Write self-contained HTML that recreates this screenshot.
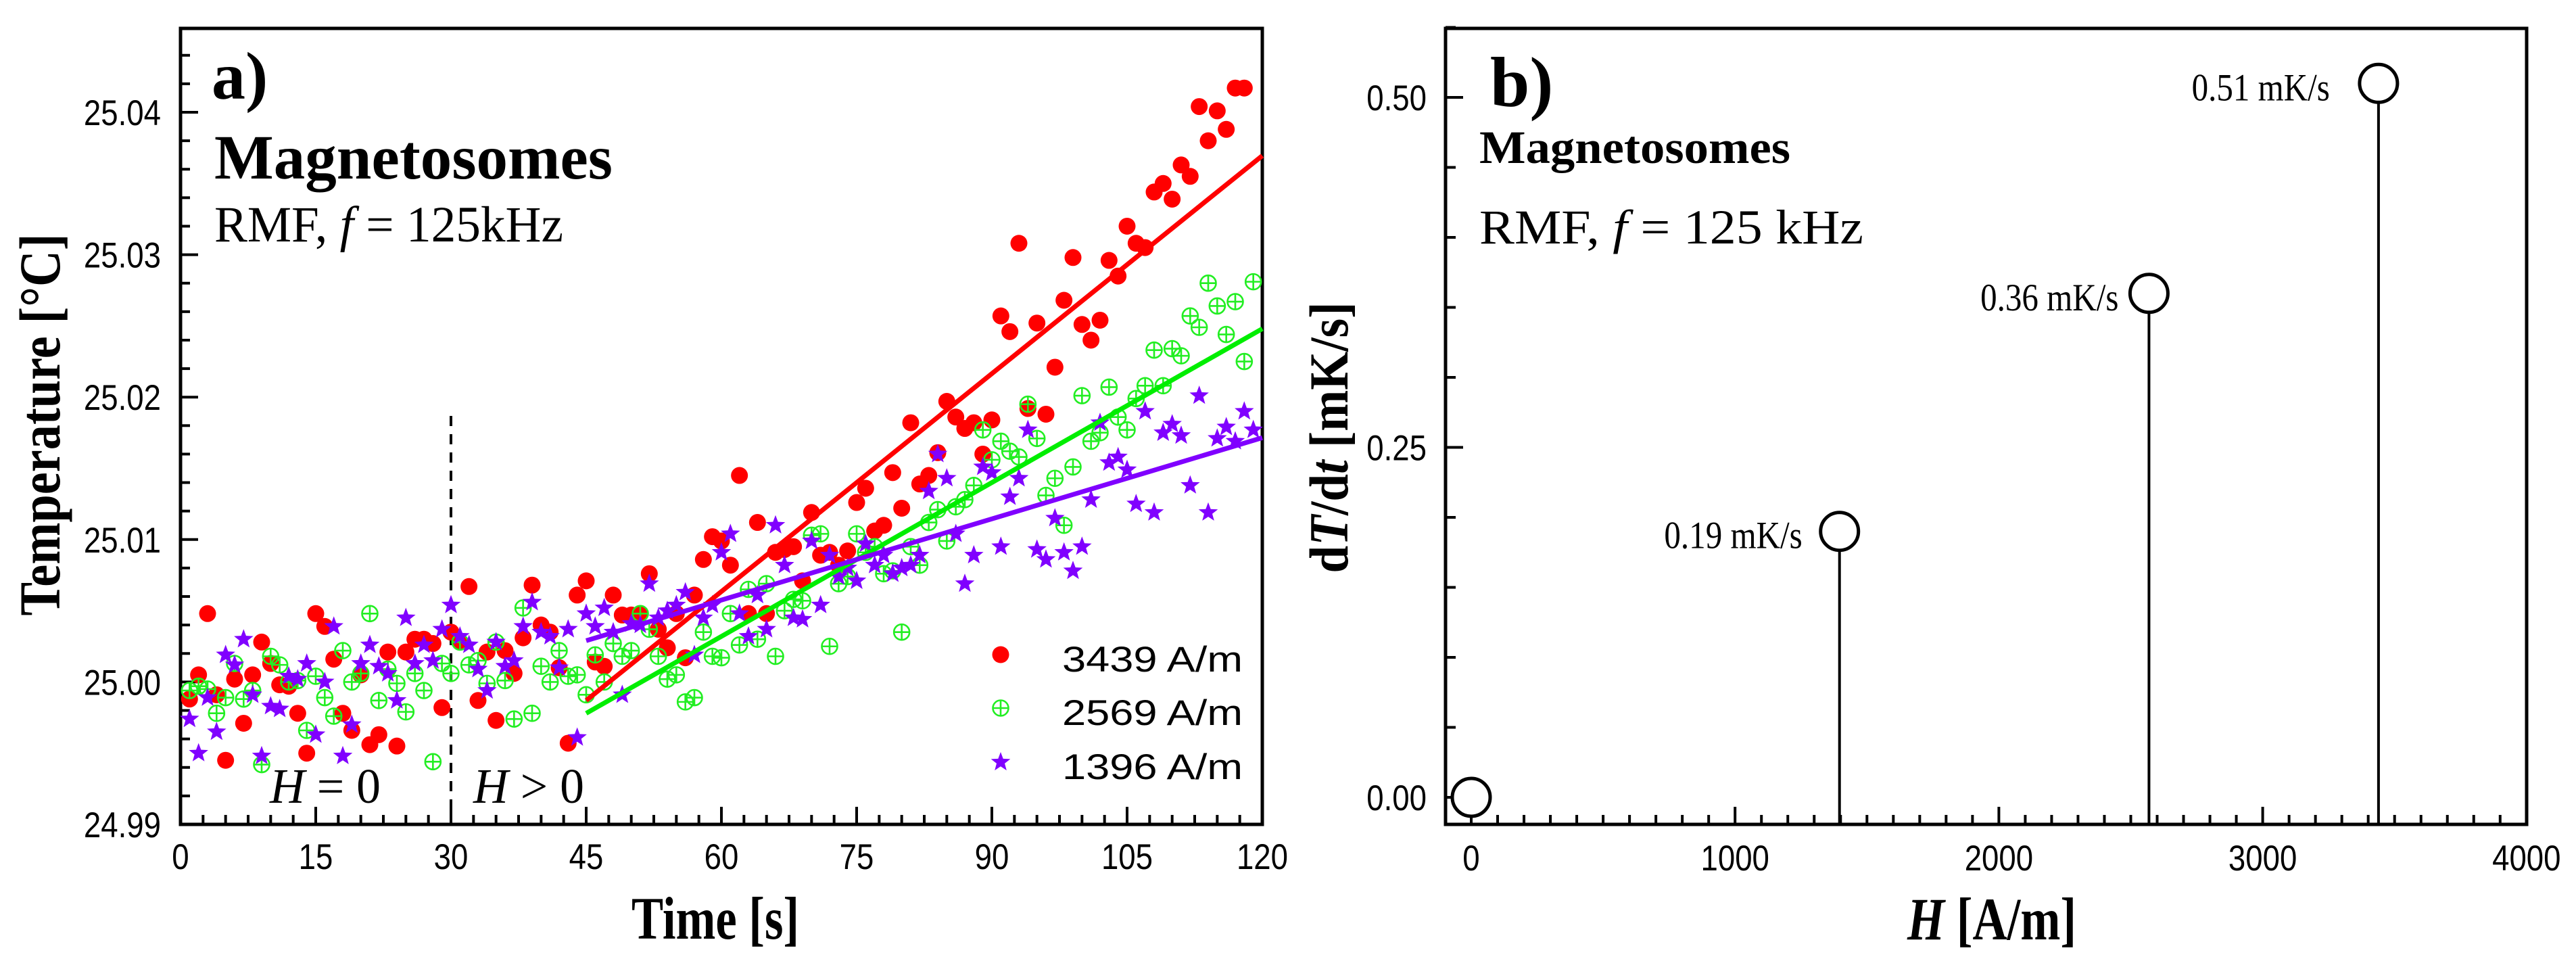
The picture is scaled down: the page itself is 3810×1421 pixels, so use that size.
<!DOCTYPE html>
<html><head><meta charset="utf-8"><title>Magnetosomes heating</title>
<style>
html,body{margin:0;padding:0;background:#fff;}
svg{display:block;}
.tk{font-family:"Liberation Sans",Arial,sans-serif;font-size:53px;fill:#000;}
.ser{font-family:"Liberation Serif","Times New Roman",serif;fill:#000;}
</style></head>
<body>
<svg id="fig" width="3810" height="1421" viewBox="0 0 3810 1421" xmlns="http://www.w3.org/2000/svg">
<g id="panelA"></g>
<g id="panelB"></g>
</svg>
<script>
// ---------- Panel a data ----------
const times = [1,2,3,4,5,6,7,8,9,10,11,12,13,14,15,16,17,18,19,20,21,22,23,24,25,26,27,28,29,30,31,32,33,34,35,36,37,38,39,40,41,42,43,44,45,46,47,48,49,50,51,52,53,54,55,56,57,58,59,60,61,62,63,64,65,66,67,68,69,70,71,72,73,74,75,76,77,78,79,80,81,82,83,84,85,86,87,88,89,90,91,92,93,94,95,96,97,98,99,100,101,102,103,104,105,106,107,108,109,110,111,112,113,114,115,116,117,118,119];
// temperature offsets from 25.000 °C, in mK
const red3439 = [-1.2,0.5,4.8,-0.9,-5.5,0.2,-2.9,0.5,2.8,1.3,-0.2,-0.3,-2.2,-5.0,4.8,3.9,1.6,-2.2,-3.4,0.5,-4.4,-3.7,2.1,-4.5,2.1,3.0,3.0,2.7,-1.8,3.5,2.8,6.7,-1.3,2.1,-2.7,2.2,0.6,3.1,6.8,4.0,3.5,1.0,-4.3,6.1,7.1,1.4,1.1,6.1,4.7,4.7,4.8,7.6,3.7,2.4,4.8,1.7,6.1,8.6,10.2,9.9,8.2,14.5,4.8,11.2,4.8,9.1,9.3,9.5,7.1,11.9,8.9,9.1,8.2,9.2,12.6,13.6,10.6,11.0,14.7,12.2,18.2,13.9,14.5,16.1,19.7,18.6,17.8,18.2,16.0,18.4,25.7,24.6,30.8,19.2,25.2,18.8,22.1,26.8,29.8,25.1,24.0,25.4,29.6,28.5,32.0,30.8,30.5,34.4,35.0,33.9,36.3,35.5,40.4,38.0,40.1,38.8,41.7,41.7];
const green2569 = [-0.6,-0.3,-0.5,-2.2,-1.1,1.3,-1.2,-0.6,-5.8,1.8,1.2,0,0.1,-3.4,0.4,-1.1,-2.4,2.2,0,0.6,4.8,-1.3,0.9,-0.1,-2.1,0.6,-0.6,-5.6,1.3,0.6,2.8,1.2,1.5,-0.1,2.8,0.1,-2.6,5.2,-2.2,1.1,0,2.2,0.4,0.5,-0.9,1.9,0,2.7,1.8,2.2,4.8,3.7,1.8,0.2,0.5,-1.4,-1.1,3.5,1.8,1.7,4.8,2.6,6.5,3.0,6.9,1.8,5.0,5.8,5.7,10.3,10.4,2.5,6.9,7.4,10.4,9.1,9.5,7.6,7.8,3.5,9.5,8.2,11.2,12.1,9.9,12.3,12.8,13.8,17.7,15.6,16.9,16.2,15.8,19.5,17.1,13.1,14.3,11.0,15.1,20.1,16.9,17.5,20.7,18.6,17.7,19.9,20.8,23.3,20.8,23.4,22.9,25.7,24.9,28.0,26.4,24.4,26.7,22.5,28.1];
const purple1396 = [-2.6,-5.0,-1.1,-3.5,1.9,1.2,3.0,-0.9,-5.2,-1.7,-1.9,0.4,0.2,1.3,-3.7,0,3.9,-5.2,-3.0,1.3,2.6,1.1,0.6,-1.3,4.5,1.3,2.6,1.5,3.7,5.4,3.2,2.6,0.9,-0.6,2.8,1.1,1.5,3.9,5.6,3.5,3.2,1.0,3.7,-3.9,4.8,3.9,5.2,3.5,-0.9,4.1,4.0,6.9,4.5,5.0,5.4,6.3,1.9,4.5,5.4,9.1,10.4,4.8,3.2,6.1,3.7,11.0,8.2,4.5,4.4,9.9,5.4,8.9,7.4,8.0,7.1,9.7,8.2,8.9,7.6,8.0,8.2,8.9,13.4,16.0,14.3,10.4,6.9,8.9,15.1,14.7,9.5,13.0,14.3,17.7,9.3,8.6,11.5,9.1,7.8,9.5,12.8,18.2,15.4,15.8,14.9,12.5,19.0,11.9,17.5,18.1,17.3,13.8,20.1,11.9,17.1,17.9,16.9,19.0,17.7];
const fieldLabels = ["3439 A/m","2569 A/m","1396 A/m"];
const fitStartT = 45, fitEndT = 120;
const fitValueAtStart = [-1.3,-2.2,2.9];   // mK at t=45
const xTicksA = [0,15,30,45,60,75,90,105,120];
const yTicksA = [24.99,25.00,25.01,25.02,25.03,25.04];
const yTickLabelsA = ["24.99","25.00","25.01","25.02","25.03","25.04"];

// ---------- Panel b data ----------
const fieldH = [0,1396,2569,3439];
const rateDTdt = [0,0.19,0.36,0.51];
const rateLabels = ["","0.19 mK/s","0.36 mK/s","0.51 mK/s"];
const xTicksB = [0,1000,2000,3000,4000];
const yTicksB = [0.00,0.25,0.50];
const yTickLabelsB = ["0.00","0.25","0.50"];

const NS = "http://www.w3.org/2000/svg";
function mk(tag, attrs, parent, text){
  const e = document.createElementNS(NS, tag);
  for (const k in attrs) e.setAttribute(k, attrs[k]);
  if (text !== undefined) e.textContent = text;
  parent.appendChild(e);
  return e;
}
// axes functions
const A = {x0:267, x1:1867, y0:1219, top:42};
const xA = t => A.x0 + t*(A.x1-A.x0)/120;
const yA = T => 1219 - (T-24.99)*21060;
const yAmK = m => yA(25 + m/1000);
const B = {x0:2138, x1:3737, y0:1219, top:42};
const xB = h => 2176 + h*0.3902;
const yB = v => 1179 - v*2070;

const pa = document.getElementById('panelA');
const pb = document.getElementById('panelB');

// ===== Panel A =====
let fr = mk('rect',{x:A.x0,y:A.top,width:A.x1-A.x0,height:A.y0-A.top,fill:'none',stroke:'#000','stroke-width':5},pa);


// x ticks
for (let t=0;t<=120.001;t+=2.5){
  const major = Math.abs(t%15)<0.01;
  const l = mk('line',{x1:xA(t),x2:xA(t),y1:A.y0,y2:A.y0-(major?26:14),stroke:'#000','stroke-width':4},pa);
  
  
}
xTicksA.forEach(t=>{
  const e = mk('text',{x:xA(t),y:1285,'text-anchor':'middle',class:'tk sq'},pa,String(t));
  
  
});
for (let v=24.99; v<=25.0455; v+=0.002){
  const major = Math.abs(Math.round((v-24.99)*1000)%10)<0.5;
  const l = mk('line',{x1:A.x0,x2:A.x0+(major?26:14),y1:yA(v),y2:yA(v),stroke:'#000','stroke-width':4},pa);
  
  
}
yTicksA.forEach((v,i)=>{
  const e = mk('text',{x:238,y:yA(v)+19,'text-anchor':'end',class:'tk sq'},pa,yTickLabelsA[i]);
  
  
});
// axis titles
let tt = mk('text',{x:1058,y:1388,'text-anchor':'middle',class:'ser','font-size':89,'font-weight':'bold',textLength:248,lengthAdjust:'spacingAndGlyphs'},pa,'Time [s]');


let yt = mk('text',{x:0,y:0,'text-anchor':'middle',class:'ser','font-size':86,'font-weight':'bold',textLength:565,lengthAdjust:'spacingAndGlyphs',transform:'translate(88,628) rotate(-90)'},pa,'Temperature [°C]');


// dashed line at t=30
let dl = mk('line',{x1:xA(30),x2:xA(30),y1:615,y2:A.y0,stroke:'#000','stroke-width':4,'stroke-dasharray':'15 12'},pa);


// H labels
function hLabel(x, op, name){
  const e = mk('text',{x:x,y:1187,class:'ser','font-size':73,textLength:164,lengthAdjust:'spacingAndGlyphs'},pa);
  
  
  mk('tspan',{'font-style':'italic'},e,'H');
  mk('tspan',{},e,' '+op+' 0');
}
hLabel(399,'=','label-h-zero');
hLabel(700,'>','label-h-positive');
// texts
let ta = mk('text',{x:313,y:146,class:'ser','font-size':100,'font-weight':'bold'},pa,'a)');


let mg = mk('text',{x:317,y:264,class:'ser','font-size':93,'font-weight':'bold',textLength:589,lengthAdjust:'spacingAndGlyphs'},pa,'Magnetosomes');


let rm = mk('text',{x:317,y:357,class:'ser','font-size':75,textLength:516,lengthAdjust:'spacingAndGlyphs'},pa);


mk('tspan',{},rm,'RMF, ');mk('tspan',{'font-style':'italic'},rm,'f');mk('tspan',{},rm,' = 125kHz');

// markers
function starPath(cx,cy,R){
  const r=R*0.42; let d='';
  for(let i=0;i<10;i++){
    const a=-Math.PI/2+i*Math.PI/5, rr=i%2?r:R;
    d+=(i?'L':'M')+(cx+rr*Math.cos(a)).toFixed(1)+' '+(cy+rr*Math.sin(a)).toFixed(1);
  }
  return d+'Z';
}
function drawMarker(kind,cx,cy,parent,name){
  let e;
  if(kind===0){ e = mk('circle',{cx:cx,cy:cy,r:12.5,fill:'#ff0000'},parent); }
  else if(kind===1){
    e = mk('g',{},parent);
    mk('circle',{cx:cx,cy:cy,r:11.5,fill:'none',stroke:'#22ee22','stroke-width':2.6},e);
    mk('path',{d:`M${cx-11.5} ${cy}H${cx+11.5}M${cx} ${cy-11.5}V${cy+11.5}`,stroke:'#22ee22','stroke-width':2.6},e);
  } else { e = mk('path',{d:starPath(cx,cy,15),fill:'#8000ff'},parent); }
  
  
}
const series = [red3439, green2569, purple1396];
const seriesNames = ['point-3439','point-2569','point-1396'];
const gPts = mk('g',{},pa);


series.forEach((arr,k)=>{
  arr.forEach((v,i)=>{ drawMarker(k,xA(times[i]),yAmK(v),gPts,seriesNames[k]); });
});
// fit lines (slope = heating rate from panel b, mK/s)
const lineColors = ['#ff0000','#00ee00','#8000ff'];
const slopes = [rateDTdt[3], rateDTdt[2], rateDTdt[1]];
const fitNames = ['fit-line-3439','fit-line-2569','fit-line-1396'];
[0,1,2].forEach(k=>{
  const v0 = fitValueAtStart[k], v1 = v0 + slopes[k]*(fitEndT-fitStartT);
  const l = mk('line',{x1:xA(fitStartT),y1:yAmK(v0),x2:xA(fitEndT),y2:yAmK(v1),stroke:lineColors[k],'stroke-width':7},pa);
  
  
});
// legend
const lg = mk('g',{},pa);


[968,1047,1127].forEach((y,k)=>{
  drawMarker(k,1480,y,lg,'legend-marker-'+fieldLabels[k].split(' ')[0]);
  const e = mk('text',{x:1571,y:y+25,class:'tk','font-size':70,textLength:267,lengthAdjust:'spacingAndGlyphs'},lg,fieldLabels[k]);
  
  
});

// ===== Panel B =====
let frb = mk('rect',{x:B.x0,y:B.top,width:B.x1-B.x0,height:B.y0-B.top,fill:'none',stroke:'#000','stroke-width':5},pb);


for (let h=0;h<=4000;h+=100){
  const major = h%1000===0;
  const l = mk('line',{x1:xB(h),x2:xB(h),y1:B.y0,y2:B.y0-(major?26:14),stroke:'#000','stroke-width':4},pb);
  
  
}
xTicksB.forEach(h=>{
  const e = mk('text',{x:xB(h),y:1287,'text-anchor':'middle',class:'tk sq'},pb,String(h));
  
  
});
for (let i=0;i<=11;i++){
  const v=i*0.05, major = i%5===0;
  const l = mk('line',{x1:B.x0,x2:B.x0+(major?26:15),y1:yB(v),y2:yB(v),stroke:'#000','stroke-width':4},pb);
  
  
}
yTicksB.forEach((v,i)=>{
  const e = mk('text',{x:2110,y:yB(v)+19,'text-anchor':'end',class:'tk sq'},pb,yTickLabelsB[i]);
  
  
});
let xtb = mk('text',{x:2946,y:1389,'text-anchor':'middle',class:'ser','font-size':89,'font-weight':'bold',textLength:250,lengthAdjust:'spacingAndGlyphs'},pb);


mk('tspan',{'font-style':'italic'},xtb,'H');mk('tspan',{},xtb,' [A/m]');
let ytb = mk('text',{x:0,y:0,'text-anchor':'middle',class:'ser','font-size':82,'font-weight':'bold',textLength:401,lengthAdjust:'spacingAndGlyphs',transform:'translate(1993,647) rotate(-90)'},pb);


mk('tspan',{},ytb,'d');mk('tspan',{'font-style':'italic'},ytb,'T');mk('tspan',{},ytb,'/d');mk('tspan',{'font-style':'italic'},ytb,'t');mk('tspan',{},ytb,' [mK/s]');
let tb = mk('text',{x:2204,y:157,class:'ser','font-size':105,'font-weight':'bold'},pb,'b)');


let mgb = mk('text',{x:2188,y:241,class:'ser','font-size':69,'font-weight':'bold',textLength:460,lengthAdjust:'spacingAndGlyphs'},pb,'Magnetosomes');


let rmb = mk('text',{x:2188,y:360,class:'ser','font-size':72,textLength:568,lengthAdjust:'spacingAndGlyphs'},pb);


mk('tspan',{},rmb,'RMF, ');mk('tspan',{'font-style':'italic'},rmb,'f');mk('tspan',{},rmb,' =  125 kHz');
// stems
const labelGap = [0,55,45,72];
fieldH.forEach((h,i)=>{
  const cx=xB(h), cy=yB(rateDTdt[i]);
  if (rateDTdt[i]>0){
    const s = mk('line',{x1:cx,x2:cx,y1:cy+28,y2:B.y0,stroke:'#000','stroke-width':4},pb);
    
    
  }
  const c = mk('circle',{cx:cx,cy:cy,r:28,fill:'#fff',stroke:'#000','stroke-width':5},pb);
  
  
  if (rateLabels[i]){
    const t = mk('text',{x:cx-labelGap[i],y:cy+25,'text-anchor':'end',class:'ser sq','font-size':57},pb,rateLabels[i]);
    
    
  }
});
// squeeze labels slightly to match condensed look
document.querySelectorAll('text.sq').forEach(e=>{
  const L = e.getComputedTextLength();
  e.setAttribute('textLength',(L*0.86).toFixed(1));
  e.setAttribute('lengthAdjust','spacingAndGlyphs');
});
</script>
</body></html>
